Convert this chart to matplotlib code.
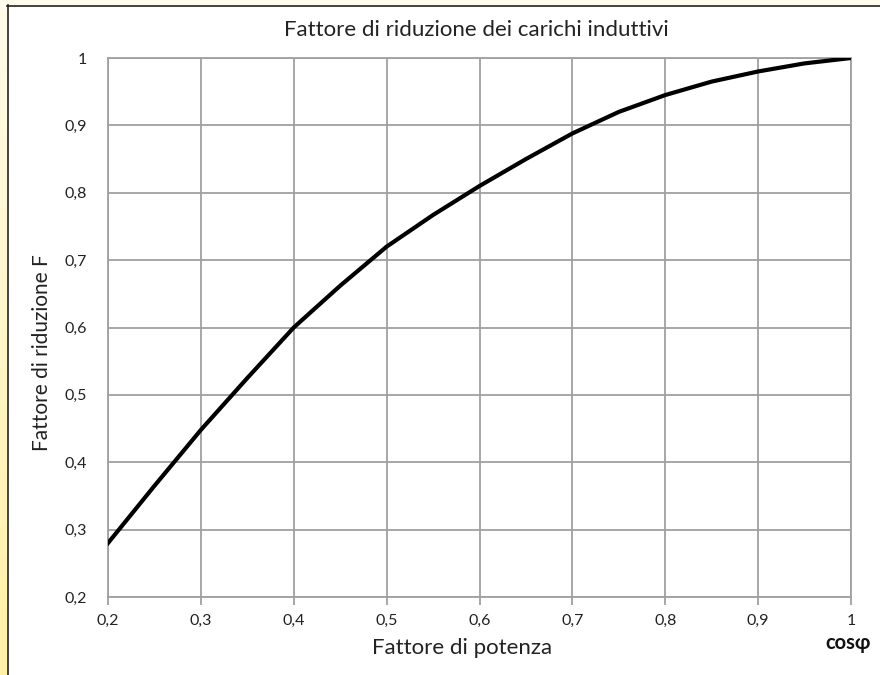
import numpy as np
import matplotlib.pyplot as plt
from matplotlib.lines import Line2D
from matplotlib.colors import LinearSegmentedColormap

# power factor (cos phi) vs reduction factor F
cosphi = [0.2, 0.25, 0.3, 0.35, 0.4, 0.45, 0.5, 0.55, 0.6, 0.65, 0.7, 0.75, 0.8, 0.85, 0.9, 0.95, 1.0]
fattore = [0.28, 0.365, 0.448, 0.525, 0.60, 0.662, 0.72, 0.767, 0.81, 0.85, 0.888, 0.92, 0.945, 0.965, 0.98, 0.992, 1.0]

x_ticks = [0.2, 0.3, 0.4, 0.5, 0.6, 0.7, 0.8, 0.9, 1.0]
y_ticks = [0.2, 0.3, 0.4, 0.5, 0.6, 0.7, 0.8, 0.9, 1.0]

def comma(v):
    return f"{v:g}".replace('.', ',')

plt.rcParams['font.family'] = ['Lato', 'DejaVu Sans']

fig = plt.figure(figsize=(8.8, 6.75), dpi=100)
fig.patch.set_facecolor('white')

# pale yellow frame strips on the left and top, with a dark border line
grad = np.linspace(0, 1, 256).reshape(-1, 1)
bg = fig.add_axes([0, 0, 1, 1], zorder=-5)
bg.axis('off')
bg.set_xlim(0, 880)
bg.set_ylim(675, 0)
ycmap = LinearSegmentedColormap.from_list('y', ['#fffbea', '#fff1a6'])
bg.imshow(grad, extent=[0, 7, 675, 0], cmap=ycmap, aspect='auto')
bg.fill_between([0, 880], 0, 5, color='#fffbec')
bg.add_line(Line2D([7.5, 7.5], [5, 675], color='#222222', lw=1.2))
bg.add_line(Line2D([7, 880], [5.5, 5.5], color='#222222', lw=1.2))

ax = fig.add_axes([108/880, 1 - 597/675, (851 - 108)/880, (597 - 58)/675])
ax.plot(cosphi, fattore, color='black', lw=3, solid_joinstyle='round', zorder=3)

ax.set_xlim(0.2, 1.0)
ax.set_ylim(0.2, 1.0)
ax.set_xticks(x_ticks)
ax.set_yticks(y_ticks)
ax.set_xticklabels([comma(v) for v in x_ticks], fontsize=11.5, color='#222222')
ax.set_yticklabels([comma(v) for v in y_ticks], fontsize=11.5, color='#222222')
ax.grid(True, color='#a0a0a0', lw=1.3)
ax.tick_params(axis='x', length=6, width=1.3, color='#a0a0a0', pad=6)
ax.tick_params(axis='y', length=0, pad=15)
for s in ax.spines.values():
    s.set_color('#a0a0a0')
    s.set_linewidth(1.3)

fig.text(476/880, 1 - 30/675, 'Fattore di riduzione dei carichi induttivi',
         ha='center', va='center', fontsize=16, color='#222222')
fig.text(462/880, 1 - 648/675, 'Fattore di potenza',
         ha='center', va='center', fontsize=16, color='#222222')
fig.text(42/880, 1 - 353/675, 'Fattore di riduzione F', rotation=90,
         ha='center', va='center', fontsize=15, color='#222222')
fig.text(848/880, 1 - 643/675, 'cosφ', ha='center', va='center',
         fontsize=14.5, fontweight='bold', color='#111111')

fig.savefig('out.png', dpi=100)
